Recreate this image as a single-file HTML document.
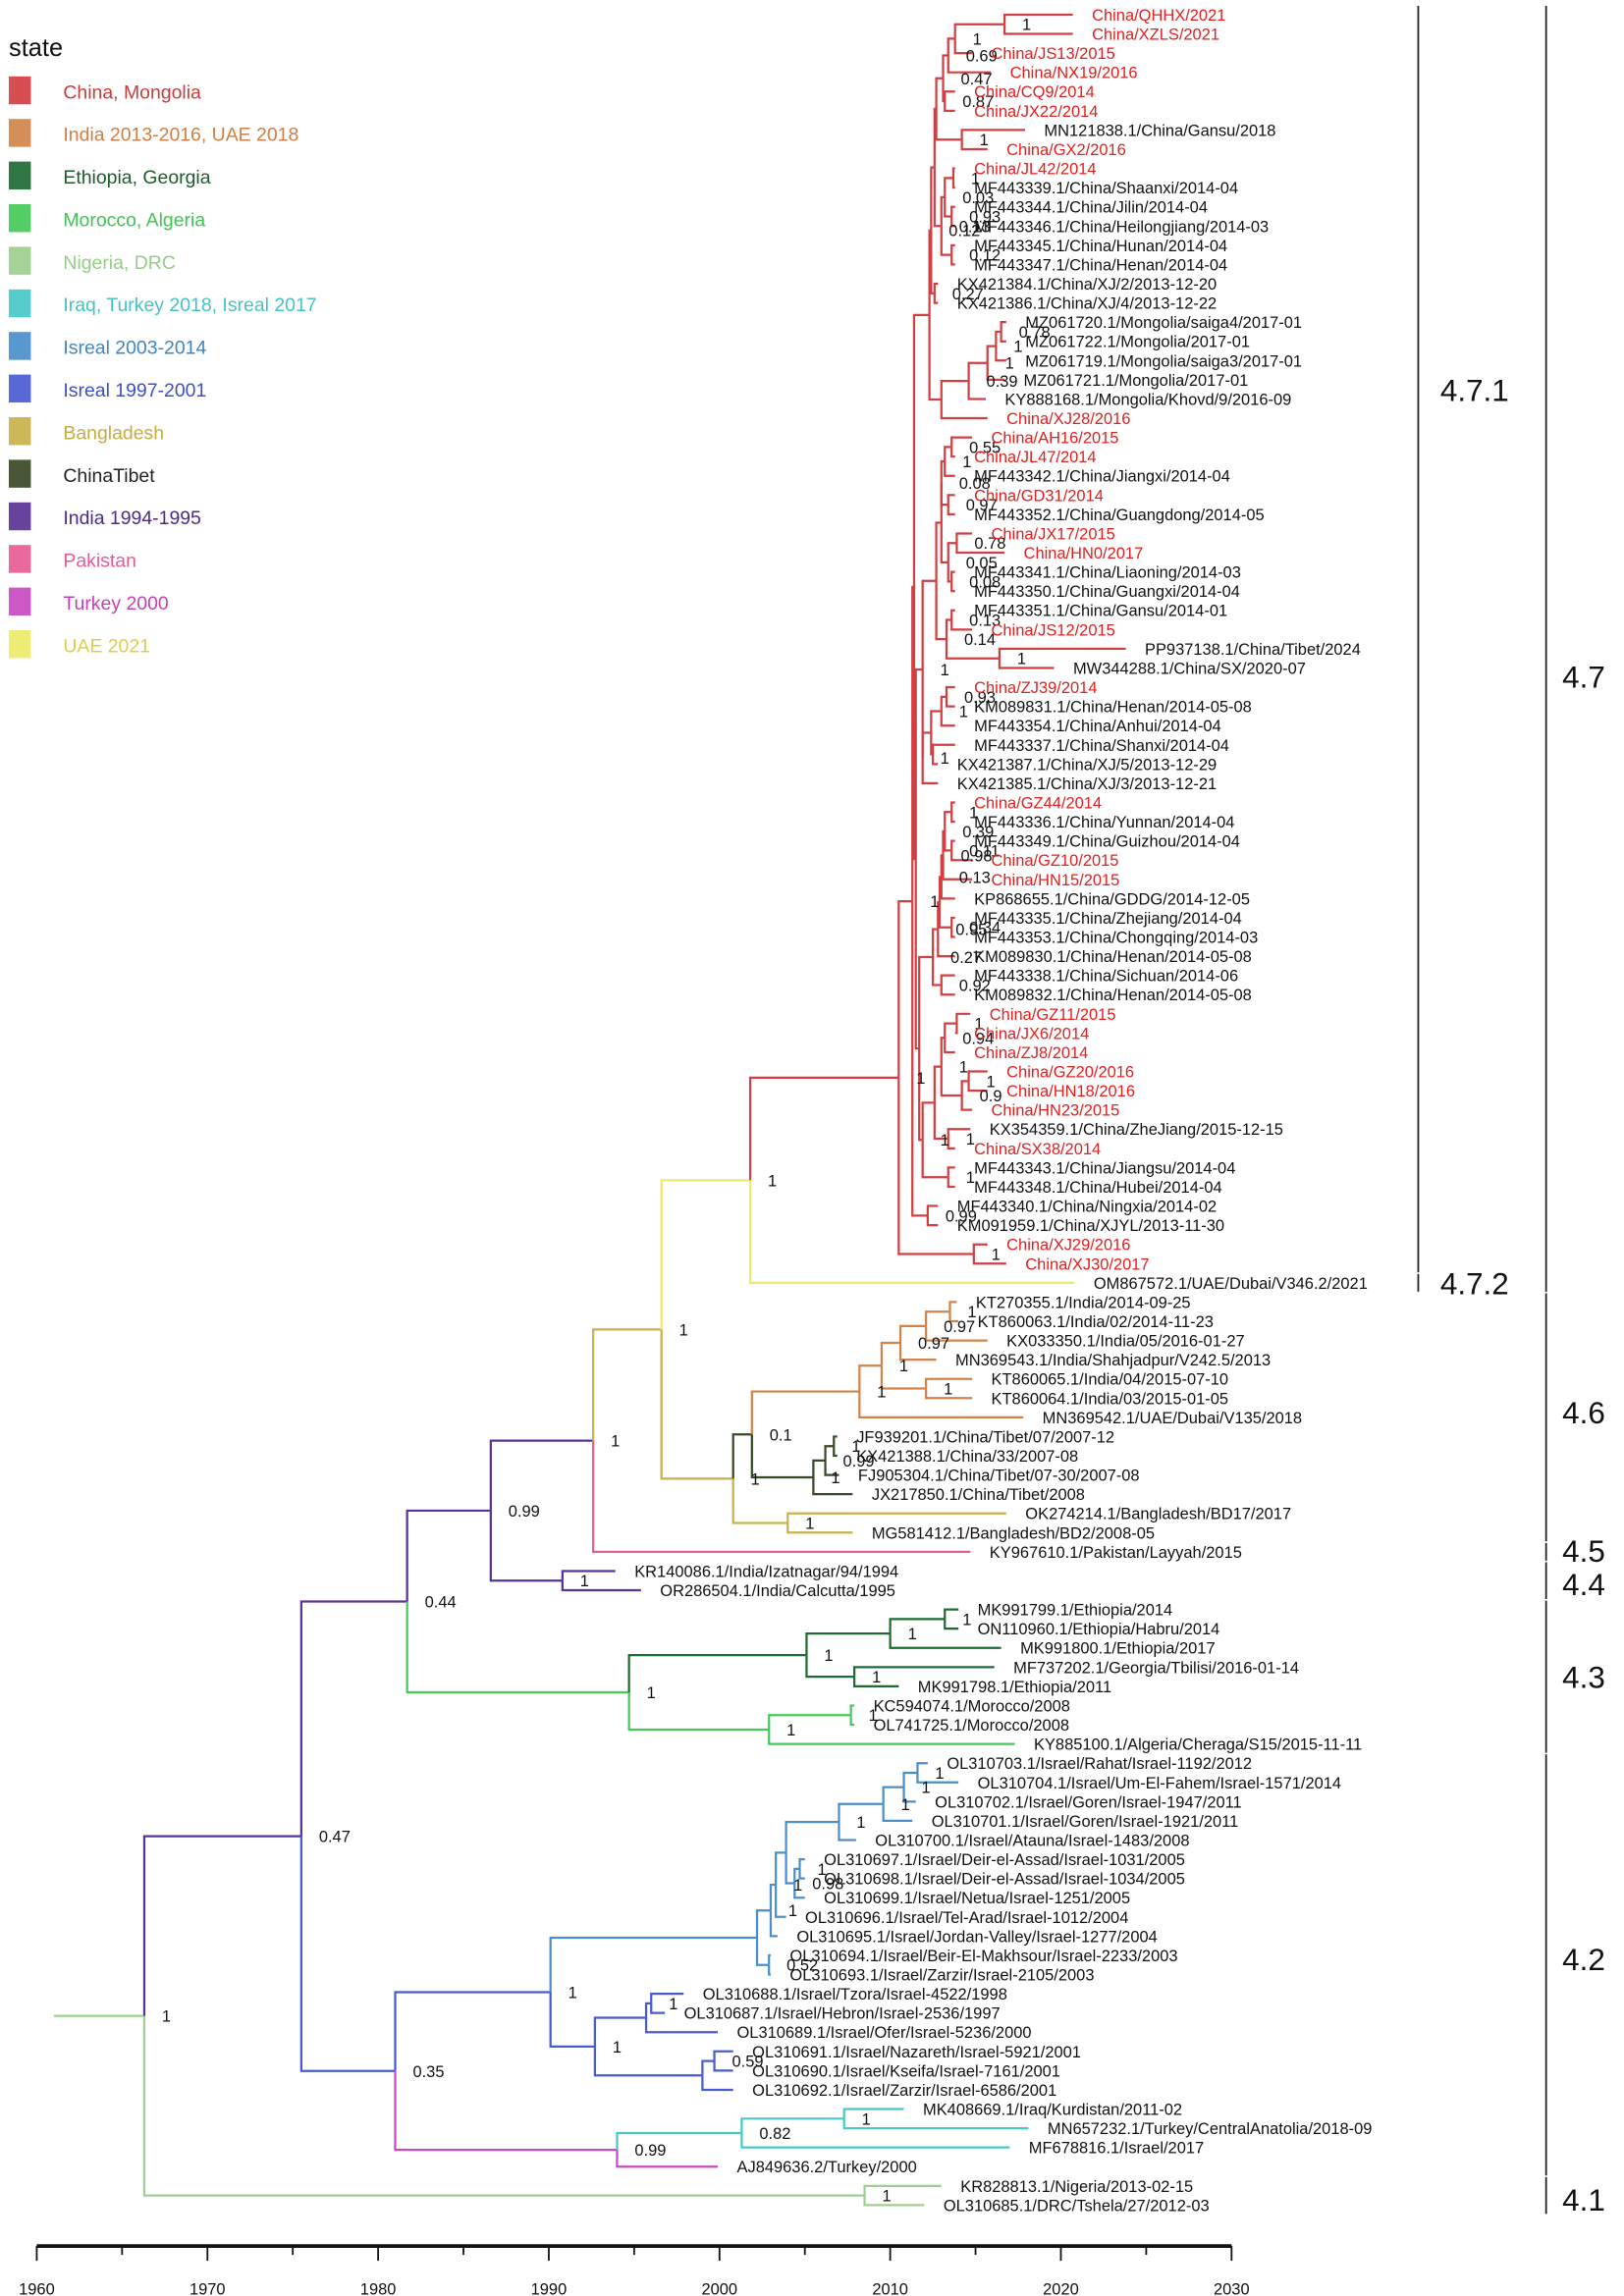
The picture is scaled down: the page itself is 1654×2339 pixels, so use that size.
<!DOCTYPE html>
<html><head><meta charset="utf-8"><style>
html,body{margin:0;padding:0;background:#fff}
svg{display:block}
text{font-family:"Liberation Sans",Arial,sans-serif}
</style></head><body>
<svg id="chart" xmlns="http://www.w3.org/2000/svg" width="1654" height="2339" viewBox="0 0 1105 1563" preserveAspectRatio="none">
<g id="legend">
<text x="6" y="38" font-size="17" fill="#111">state</text>
</g>
<g id="branches"></g>
<g id="supports"></g>
<g id="tips"></g>
<g id="brackets"></g>
<g id="axis"></g>
</svg>
<script>
const groupKeys=["CN","IN","ET","MA","NG","IQ","IL2","IL1","BD","TB","IN94","PK","TR","UAE"];
const groupColors=["#d23f42","#d0844a","#1f6b34","#46c95a","#9dcf8e","#49c8c8","#4a8fcb","#4a5bd0","#c8b24a","#384a25","#5a3396","#e85c95","#c84ac0","#eeea6a"];
const groupLabels=["China, Mongolia","India 2013-2016, UAE 2018","Ethiopia, Georgia","Morocco, Algeria","Nigeria, DRC","Iraq,  Turkey 2018, Isreal 2017","Isreal 2003-2014","Isreal 1997-2001","Bangladesh","ChinaTibet","India 1994-1995","Pakistan","Turkey 2000","UAE 2021"];
const groupTextColors=["#cc3b3b","#cf7e45","#1f5a2c","#3fc453","#96cc86","#45c2c4","#3d86c3","#3d4fc4","#c4ad45","#222","#4b2a86","#e55a92","#c440b8","#e0cc4a"];

const nodeNames=["R","N41","A","B","C","D","E","F","H471","Bg","U1","b8","b7","b6","a7","a6","a3","a2","a1","a4","a5","b5","b4","b1","b2","b3","c","m5","m4","m3","m2","m1","d8","d7","d6","d5","d4","d2","d1","d3","e3","e1","e2","f3","f2","f1","g5","g4","g2","g1","g3","i10","h10","h8","h7","h5","h4","h3","h1","h2","h6","h9","i9","i7","i5","i2","i1","i4","i3","i6","i8","Nx","XJn","G","I","K","M","N","P","R1","Q","L","S","T","J","Ind","H43","ET","ET1","ET2","ET3","MA","MA1","I4","J42","IL2","Q94","Q1","Q2","Q3","Q5","Q6","Q4","Q7","Q8","Q9","IL1","IL1a","IL1b","IL1c","IL1d","Kp","Cy","Cy1"];
const nodeParents=["","R","R","A","B","C","D","E","F","H471","Bg","U1","b8","b7","b6","a7","a6","a3","a2","a6","a7","b6","b5","b4","b4","b5","b7","b8","m5","m4","m3","m2","U1","d8","d7","d6","d5","d4","d2","d4","d5","e3","e3","d6","f3","f3","d7","g5","g4","g2","g4","d8","i10","h10","h8","h7","h5","h4","h3","h3","h7","h10","i10","i9","i7","i5","i2","i5","i4","i7","i9","Bg","H471","E","G","I","K","M","N","P","M","I","L","S","G","C","B","H43","ET","ET1","ET","H43","MA","A","I4","J42","IL2","IL2","Q1","Q2","Q3","Q5","Q3","Q4","Q7","Q8","J42","IL1","IL1a","IL1","IL1c","I4","Kp","Cy"];
const nodeYears=[1966.3,2008.5,1975.5,1981.7,1986.6,1992.6,1996.6,2001.8,2010.5,2011.3,2011.4,2012.3,2012.4,2012.6,2012.7,2013.1,2013.4,2013.8,2016.7,2013.2,2014.2,2013.0,2013.2,2013.7,2013.6,2013.6,2012.6,2013.0,2014.6,2015.7,2016.2,2016.5,2011.5,2011.9,2012.7,2013.0,2013.0,2013.2,2013.6,2013.4,2013.4,2013.9,2013.6,2013.3,2013.6,2016.4,2011.9,2012.4,2013.0,2013.3,2012.5,2011.7,2012.5,2012.8,2012.9,2013.0,2013.1,2013.2,2013.6,2013.6,2013.6,2013.0,2011.9,2012.6,2013.0,2013.2,2013.9,2014.2,2014.6,2013.4,2013.4,2012.2,2014.9,2000.8,2001.9,2008.2,2009.5,2010.6,2012.1,2013.5,2012.1,2005.5,2006.2,2006.7,2004.0,1990.8,1994.7,2005.1,2010.0,2013.2,2007.9,2002.9,2007.7,1981.0,1990.1,2002.2,2002.9,2003.0,2003.3,2003.9,2004.4,2004.7,2007.0,2009.6,2010.8,2011.6,1992.7,1995.7,1996.0,1999.0,1999.7,1994.0,2001.3,2007.3];
const nodeSupports=["1","1","0.47","0.44","0.99","1","1","1","1","1","","","0.12","","","0.47","0.69","1","1","0.87","1","0.13","0.03","1","0.93","0.12","0.27","","0.39","1","1","0.78","","1","","","0.08","1","0.55","0.97","0.05","0.78","0.08","0.14","0.13","1","1","","1","0.93","","","0.27","0.95","","0.13","0.98","0.39","1","0.11","0.34","0.92","1","","1","0.94","1","0.9","1","1","1","0.99","1","1","0.1","1","1","0.97","0.97","1","1","1","0.99","1","1","1","1","1","1","1","1","1","1","0.35","1","","0.52","1","1","","0.98","1","1","1","1","1","1","","1","","0.59","0.99","0.82","1"];
const nodeGroups=["NG","NG","IN94","IN94","IN94","IN94","BD","UAE","CN","CN","CN","CN","CN","CN","CN","CN","CN","CN","CN","CN","CN","CN","CN","CN","CN","CN","CN","CN","CN","CN","CN","CN","CN","CN","CN","CN","CN","CN","CN","CN","CN","CN","CN","CN","CN","CN","CN","CN","CN","CN","CN","CN","CN","CN","CN","CN","CN","CN","CN","CN","CN","CN","CN","CN","CN","CN","CN","CN","CN","CN","CN","CN","CN","BD","TB","IN","IN","IN","IN","IN","IN","TB","TB","TB","BD","IN94","MA","ET","ET","ET","ET","MA","MA","IL1","IL1","IL2","IL2","IL2","IL2","IL2","IL2","IL2","IL2","IL2","IL2","IL2","IL1","IL1","IL1","IL1","IL1","TR","IQ","IQ"];

const tipNames=["China/QHHX/2021","China/XZLS/2021","China/JS13/2015","China/NX19/2016","China/CQ9/2014","China/JX22/2014","MN121838.1/China/Gansu/2018","China/GX2/2016","China/JL42/2014","MF443339.1/China/Shaanxi/2014-04","MF443344.1/China/Jilin/2014-04","MF443346.1/China/Heilongjiang/2014-03","MF443345.1/China/Hunan/2014-04","MF443347.1/China/Henan/2014-04","KX421384.1/China/XJ/2/2013-12-20","KX421386.1/China/XJ/4/2013-12-22","MZ061720.1/Mongolia/saiga4/2017-01","MZ061722.1/Mongolia/2017-01","MZ061719.1/Mongolia/saiga3/2017-01","MZ061721.1/Mongolia/2017-01","KY888168.1/Mongolia/Khovd/9/2016-09","China/XJ28/2016","China/AH16/2015","China/JL47/2014","MF443342.1/China/Jiangxi/2014-04","China/GD31/2014","MF443352.1/China/Guangdong/2014-05","China/JX17/2015","China/HN0/2017","MF443341.1/China/Liaoning/2014-03","MF443350.1/China/Guangxi/2014-04","MF443351.1/China/Gansu/2014-01","China/JS12/2015","PP937138.1/China/Tibet/2024","MW344288.1/China/SX/2020-07","China/ZJ39/2014","KM089831.1/China/Henan/2014-05-08","MF443354.1/China/Anhui/2014-04","MF443337.1/China/Shanxi/2014-04","KX421387.1/China/XJ/5/2013-12-29","KX421385.1/China/XJ/3/2013-12-21","China/GZ44/2014","MF443336.1/China/Yunnan/2014-04","MF443349.1/China/Guizhou/2014-04","China/GZ10/2015","China/HN15/2015","KP868655.1/China/GDDG/2014-12-05","MF443335.1/China/Zhejiang/2014-04","MF443353.1/China/Chongqing/2014-03","KM089830.1/China/Henan/2014-05-08","MF443338.1/China/Sichuan/2014-06","KM089832.1/China/Henan/2014-05-08","China/GZ11/2015","China/JX6/2014","China/ZJ8/2014","China/GZ20/2016","China/HN18/2016","China/HN23/2015","KX354359.1/China/ZheJiang/2015-12-15","China/SX38/2014","MF443343.1/China/Jiangsu/2014-04","MF443348.1/China/Hubei/2014-04","MF443340.1/China/Ningxia/2014-02","KM091959.1/China/XJYL/2013-11-30","China/XJ29/2016","China/XJ30/2017","OM867572.1/UAE/Dubai/V346.2/2021","KT270355.1/India/2014-09-25","KT860063.1/India/02/2014-11-23","KX033350.1/India/05/2016-01-27","MN369543.1/India/Shahjadpur/V242.5/2013","KT860065.1/India/04/2015-07-10","KT860064.1/India/03/2015-01-05","MN369542.1/UAE/Dubai/V135/2018","JF939201.1/China/Tibet/07/2007-12","KX421388.1/China/33/2007-08","FJ905304.1/China/Tibet/07-30/2007-08","JX217850.1/China/Tibet/2008","OK274214.1/Bangladesh/BD17/2017","MG581412.1/Bangladesh/BD2/2008-05","KY967610.1/Pakistan/Layyah/2015","KR140086.1/India/Izatnagar/94/1994","OR286504.1/India/Calcutta/1995","MK991799.1/Ethiopia/2014","ON110960.1/Ethiopia/Habru/2014","MK991800.1/Ethiopia/2017","MF737202.1/Georgia/Tbilisi/2016-01-14","MK991798.1/Ethiopia/2011","KC594074.1/Morocco/2008","OL741725.1/Morocco/2008","KY885100.1/Algeria/Cheraga/S15/2015-11-11","OL310703.1/Israel/Rahat/Israel-1192/2012","OL310704.1/Israel/Um-El-Fahem/Israel-1571/2014","OL310702.1/Israel/Goren/Israel-1947/2011","OL310701.1/Israel/Goren/Israel-1921/2011","OL310700.1/Israel/Atauna/Israel-1483/2008","OL310697.1/Israel/Deir-el-Assad/Israel-1031/2005","OL310698.1/Israel/Deir-el-Assad/Israel-1034/2005","OL310699.1/Israel/Netua/Israel-1251/2005","OL310696.1/Israel/Tel-Arad/Israel-1012/2004","OL310695.1/Israel/Jordan-Valley/Israel-1277/2004","OL310694.1/Israel/Beir-El-Makhsour/Israel-2233/2003","OL310693.1/Israel/Zarzir/Israel-2105/2003","OL310688.1/Israel/Tzora/Israel-4522/1998","OL310687.1/Israel/Hebron/Israel-2536/1997","OL310689.1/Israel/Ofer/Israel-5236/2000","OL310691.1/Israel/Nazareth/Israel-5921/2001","OL310690.1/Israel/Kseifa/Israel-7161/2001","OL310692.1/Israel/Zarzir/Israel-6586/2001","MK408669.1/Iraq/Kurdistan/2011-02","MN657232.1/Turkey/CentralAnatolia/2018-09","MF678816.1/Israel/2017","AJ849636.2/Turkey/2000","KR828813.1/Nigeria/2013-02-15","OL310685.1/DRC/Tshela/27/2012-03"];
const tipParents=["a1","a1","a2","a3","a4","a4","a5","a5","b1","b1","b2","b2","b3","b3","c","c","m1","m1","m2","m3","m4","m5","d1","d1","d2","d3","d3","e1","e1","e2","e2","f2","f2","f1","f1","g1","g1","g2","g3","g3","g5","h1","h1","h2","h2","h4","h5","h6","h6","h8","h9","h9","i1","i1","i2","i3","i3","i4","i6","i6","i8","i8","Nx","Nx","XJn","XJn","F","R1","R1","P","N","Q","Q","K","T","T","S","L","J","J","D","Ind","Ind","ET2","ET2","ET1","ET3","ET3","MA1","MA1","MA","Q9","Q9","Q8","Q7","Q4","Q6","Q6","Q5","Q2","Q1","Q94","Q94","IL1b","IL1b","IL1a","IL1d","IL1d","IL1c","Cy1","Cy1","Cy","Kp","N41","N41"];
const tipYears=[2020.7,2020.7,2014.8,2015.9,2013.8,2013.8,2017.9,2015.7,2013.8,2013.8,2013.8,2013.8,2013.8,2013.8,2012.8,2012.8,2016.8,2016.8,2016.8,2016.7,2015.6,2015.7,2014.8,2013.8,2013.8,2013.8,2013.8,2014.8,2016.7,2013.8,2013.8,2013.8,2014.8,2023.8,2019.6,2013.8,2013.8,2013.8,2013.8,2012.8,2012.8,2013.8,2013.8,2013.8,2014.8,2014.8,2013.8,2013.8,2013.8,2013.8,2013.8,2013.8,2014.7,2013.8,2013.8,2015.7,2015.7,2014.8,2014.7,2013.8,2013.8,2013.8,2012.8,2012.8,2015.7,2016.8,2020.8,2013.9,2014.0,2015.7,2012.7,2014.8,2014.8,2017.8,2006.9,2006.9,2007.0,2007.8,2016.8,2007.8,2014.7,1993.9,1995.4,2014.0,2014.0,2016.5,2016.1,2010.5,2007.9,2007.9,2017.3,2012.2,2014.0,2011.5,2011.3,2008.0,2005.0,2005.0,2005.0,2003.9,2003.4,2003.0,2003.0,1997.9,1996.8,1999.9,2000.8,2000.8,2000.8,2010.8,2018.1,2017.0,1999.9,2013.0,2012.0];
const tipGroups=["CN","CN","CN","CN","CN","CN","CN","CN","CN","CN","CN","CN","CN","CN","CN","CN","CN","CN","CN","CN","CN","CN","CN","CN","CN","CN","CN","CN","CN","CN","CN","CN","CN","CN","CN","CN","CN","CN","CN","CN","CN","CN","CN","CN","CN","CN","CN","CN","CN","CN","CN","CN","CN","CN","CN","CN","CN","CN","CN","CN","CN","CN","CN","CN","CN","CN","UAE","IN","IN","IN","IN","IN","IN","IN","TB","TB","TB","TB","BD","BD","PK","IN94","IN94","ET","ET","ET","ET","ET","MA","MA","MA","IL2","IL2","IL2","IL2","IL2","IL2","IL2","IL2","IL2","IL2","IL2","IL2","IL1","IL1","IL1","IL1","IL1","IL1","IQ","IQ","IQ","TR","NG","NG"];

const axisTicks=[1960,1965,1970,1975,1980,1985,1990,1995,2000,2005,2010,2015,2020,2025,2030];
const axisLabels=[1960,1970,1980,1990,2000,2010,2020,2030];
const cladeNames=["4.7.1","4.7.2","4.7","4.6","4.5","4.4","4.3","4.2","4.1"];
const cladeFirstTip=[0,66,0,67,80,81,83,91,113];
const cladeLastTip=[65,66,66,79,80,82,90,112,114];
const cladeColumn=[0,0,1,1,1,1,1,1,1];
const cladeLabelY=[265,873,460,961,1055,1078,1141,1333,1497];

const NS="http://www.w3.org/2000/svg";
const xScale=y=>25+(y-1960)*11.614;
const yScale=i=>10+i*13.08;
const col=g=>groupColors[groupKeys.indexOf(g)];
function mk(tag,attrs,parent){const e=document.createElementNS(NS,tag);for(const k in attrs)e.setAttribute(k,attrs[k]);parent.appendChild(e);return e;}

const lg=document.getElementById('legend');
groupKeys.forEach((g,i)=>{
  const r=mk('rect',{x:6,y:52+i*29,width:15,height:19,fill:groupColors[i],opacity:0.92},lg);
  
  
  const t=mk('text',{x:43,y:67+i*29,'font-size':13,fill:groupTextColors[i]},lg);
  t.textContent=groupLabels[i];
  
  
});

const pos={};
nodeNames.forEach((n,i)=>{pos[n]={x:xScale(nodeYears[i]),kids:[]};});
tipNames.forEach((t,i)=>{pos[tipParents[i]].kids.push(yScale(i));});
function ny(n){
  const p=pos[n];if(p.y!==undefined)return p.y;
  const ys=p.kids.slice();
  nodeNames.forEach((m,j)=>{if(nodeParents[j]===n)ys.push(ny(m));});
  p.y=(Math.min(...ys)+Math.max(...ys))/2;return p.y;
}
nodeNames.forEach(n=>ny(n));

const br=document.getElementById('branches');
const rootStub=mk('path',{d:`M${xScale(1961)},${pos.R.y}H${pos.R.x}`,stroke:col('NG'),'stroke-width':1.5,fill:'none'},br);


nodeNames.forEach((n,i)=>{
  if(!nodeParents[i])return;
  const p=pos[nodeParents[i]],c=pos[n];
  const e=mk('path',{d:`M${p.x},${p.y}V${c.y}H${c.x}`,stroke:col(nodeGroups[i]),'stroke-width':1.5,fill:'none'},br);
  
  
});
const tg=document.getElementById('tips');
tipNames.forEach((t,i)=>{
  const p=pos[tipParents[i]],x=xScale(tipYears[i]),y=yScale(i);
  const e=mk('path',{d:`M${p.x},${p.y}V${y}H${x}`,stroke:col(tipGroups[i]),'stroke-width':1.5,fill:'none'},br);
  
  
  const lbl=mk('text',{x:x+13,y:y+4,'font-size':11,fill:/^China\//.test(t)?'#e0201f':'#111'},tg);
  lbl.textContent=t;
  
  
});
const sg=document.getElementById('supports');
nodeNames.forEach((n,i)=>{
  if(!nodeSupports[i])return;
  const s=mk('text',{x:pos[n].x+12,y:pos[n].y+4,'font-size':11,fill:'#111'},sg);
  s.textContent=nodeSupports[i];
  
  
});

const bk=document.getElementById('brackets');
cladeNames.forEach((c,i)=>{
  const x=cladeColumn[i]?1052:965;
  const y1=yScale(cladeFirstTip[i])-6,y2=yScale(cladeLastTip[i])+6;
  const l=mk('line',{x1:x,x2:x,y1:y1,y2:y2,stroke:'#222','stroke-width':1.2},bk);
  
  
  const t=mk('text',{x:x+(cladeColumn[i]?11:15),y:cladeLabelY[i]+8,'font-size':21,fill:'#111'},bk);
  t.textContent=c;
  
  
});

const ax=document.getElementById('axis');
const al=mk('line',{x1:xScale(1960),x2:xScale(2030),y1:1529,y2:1529,stroke:'#111','stroke-width':2.5},ax);


axisTicks.forEach(v=>{
  const t=mk('line',{x1:xScale(v),x2:xScale(v),y1:1529,y2:v%10===0?1539:1535,stroke:'#111','stroke-width':1.2},ax);
  
  
});
axisLabels.forEach(v=>{
  const t=mk('text',{x:xScale(v),y:1562,'font-size':11,'text-anchor':'middle',fill:'#111'},ax);
  t.textContent=v;
  
  
});
</script>
</body></html>
